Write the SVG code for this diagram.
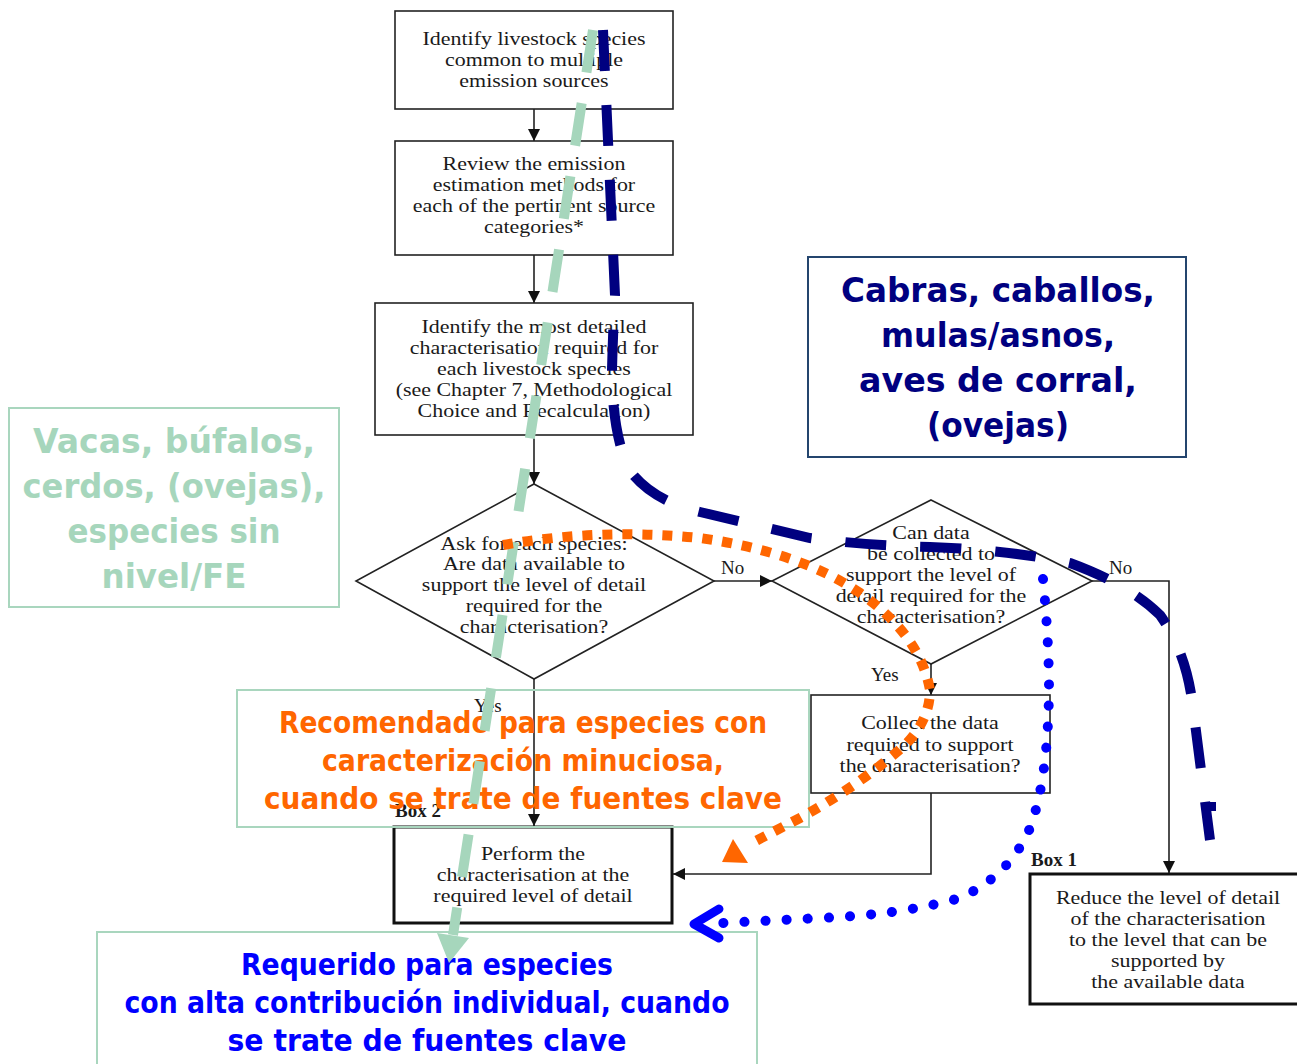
<svg xmlns="http://www.w3.org/2000/svg" width="1297" height="1064" viewBox="0 0 1297 1064">
  <defs>
    <marker id="arr" markerUnits="userSpaceOnUse" markerWidth="12" markerHeight="12" refX="12" refY="6" orient="auto">
      <path d="M0,0 L12,6 L0,12 z" fill="#111"/>
    </marker>
    <style>
      .box { fill: #fff; stroke: #222; stroke-width: 1.6; }
      .thick { fill: #fff; stroke: #111; stroke-width: 3; }
      .dia { fill: #fff; stroke: #222; stroke-width: 1.6; }
      .t { font-family: "Liberation Serif", "Times New Roman", serif; font-size: 18px; fill: #1a1a1a; text-anchor: middle; }
      .lbl { font-family: "Liberation Serif", "Times New Roman", serif; font-size: 19px; fill: #1a1a1a; }
      .bold { font-weight: bold; }
      .flow { fill: none; stroke: #222; stroke-width: 1.6; }
      .note { font-family: "DejaVu Sans", "Noto Sans", sans-serif; font-weight: bold; text-anchor: middle; }
      .notebox { fill: none; stroke-width: 2; }
    </style>
  </defs>

  <rect width="1297" height="1064" fill="#fff"/>

  <!-- flowchart connectors -->
  <g id="connectors">
    <path class="flow" d="M534 109 V141" marker-end="url(#arr)"/>
    <path class="flow" d="M534 255 V303" marker-end="url(#arr)"/>
    <path class="flow" d="M534 435 V484" marker-end="url(#arr)"/>
    <path class="flow" d="M714 581 H772" marker-end="url(#arr)"/>
    <path class="flow" d="M1092 581 H1169 V873" marker-end="url(#arr)"/>
    <path class="flow" d="M931 664 V695" marker-end="url(#arr)"/>
    <path class="flow" d="M534 679 V826" marker-end="url(#arr)"/>
    <path class="flow" d="M931 793 V874 H673" marker-end="url(#arr)"/>
    <text class="lbl" x="721" y="574">No</text>
    <text class="lbl" x="1109" y="574">No</text>
    <text class="lbl" x="871" y="681">Yes</text>
    <text class="lbl" x="474" y="712">Yes</text>
  </g>

  <!-- flowchart nodes; serif text is widened horizontally around each node's centre -->
  <g id="identify-species">
    <rect class="box" x="395" y="11" width="278" height="98"/>
    <g transform="matrix(1.22 0 0 1 -117.48 0)">
      <text class="t" x="534" y="45">Identify livestock species</text>
      <text class="t" x="534" y="66">common to multiple</text>
      <text class="t" x="534" y="87">emission sources</text>
    </g>
  </g>

  <g id="review-methods">
    <rect class="box" x="395" y="141" width="278" height="114"/>
    <g transform="matrix(1.22 0 0 1 -117.48 0)">
      <text class="t" x="534" y="170">Review the emission</text>
      <text class="t" x="534" y="191">estimation methods for</text>
      <text class="t" x="534" y="212">each of the pertinent source</text>
      <text class="t" x="534" y="233">categories*</text>
    </g>
  </g>

  <g id="identify-detail">
    <rect class="box" x="375" y="303" width="318" height="132"/>
    <g transform="matrix(1.22 0 0 1 -117.48 0)">
      <text class="t" x="534" y="333">Identify the most detailed</text>
      <text class="t" x="534" y="354">characterisation required for</text>
      <text class="t" x="534" y="375">each livestock species</text>
      <text class="t" x="534" y="396">(see Chapter 7, Methodological</text>
      <text class="t" x="534" y="417">Choice and Recalculation)</text>
    </g>
  </g>

  <g id="ask-data">
    <polygon class="dia" points="534,484 714,581 534,679 356,581"/>
    <g transform="matrix(1.22 0 0 1 -117.48 0)">
      <text class="t" x="534" y="550">Ask for each species:</text>
      <text class="t" x="534" y="570">Are data available to</text>
      <text class="t" x="534" y="591">support the level of detail</text>
      <text class="t" x="534" y="612">required for the</text>
      <text class="t" x="534" y="633">characterisation?</text>
    </g>
  </g>

  <g id="can-collect">
    <polygon class="dia" points="931,500 1092,581 931,664 772,581"/>
    <g transform="matrix(1.22 0 0 1 -204.82 0)">
      <text class="t" x="931" y="539">Can data</text>
      <text class="t" x="931" y="560">be collected to</text>
      <text class="t" x="931" y="581">support the level of</text>
      <text class="t" x="931" y="602">detail required for the</text>
      <text class="t" x="931" y="623">characterisation?</text>
    </g>
  </g>

  <g id="collect-data">
    <rect class="box" x="811" y="695" width="239" height="98"/>
    <g transform="matrix(1.22 0 0 1 -204.6 0)">
      <text class="t" x="930" y="729">Collect the data</text>
      <text class="t" x="930" y="751">required to support</text>
      <text class="t" x="930" y="772">the characterisation?</text>
    </g>
  </g>

  <g id="perform">
    <text class="lbl bold" x="395" y="817">Box 2</text>
    <rect class="thick" x="394" y="827" width="278" height="96"/>
    <g transform="matrix(1.22 0 0 1 -117.26 0)">
      <text class="t" x="533" y="860">Perform the</text>
      <text class="t" x="533" y="881">characterisation at the</text>
      <text class="t" x="533" y="902">required level of detail</text>
    </g>
  </g>

  <g id="reduce">
    <text class="lbl bold" x="1031" y="866">Box 1</text>
    <rect class="thick" x="1030" y="874" width="275" height="130"/>
    <g transform="matrix(1.22 0 0 1 -256.96 0)">
      <text class="t" x="1168" y="904">Reduce the level of detail</text>
      <text class="t" x="1168" y="925">of the characterisation</text>
      <text class="t" x="1168" y="946">to the level that can be</text>
      <text class="t" x="1168" y="967">supported by</text>
      <text class="t" x="1168" y="988">the available data</text>
    </g>
  </g>

  <!-- annotation boxes -->
  <g id="note-green">
    <rect class="notebox" x="9" y="408" width="330" height="199" stroke="#a9d6be"/>
    <g class="note" fill="#a6d6bc" font-size="34">
      <text x="174" y="453" textLength="282" lengthAdjust="spacingAndGlyphs">Vacas, búfalos,</text>
      <text x="174" y="498" textLength="303" lengthAdjust="spacingAndGlyphs">cerdos, (ovejas),</text>
      <text x="174" y="543" textLength="213" lengthAdjust="spacingAndGlyphs">especies sin</text>
      <text x="174" y="588" textLength="145" lengthAdjust="spacingAndGlyphs">nivel/FE</text>
    </g>
  </g>

  <g id="note-navy">
    <rect class="notebox" x="808" y="257" width="378" height="200" stroke="#24456e"/>
    <g class="note" fill="#000080" font-size="34">
      <text x="998" y="302" textLength="314" lengthAdjust="spacingAndGlyphs">Cabras, caballos,</text>
      <text x="998" y="347" textLength="234" lengthAdjust="spacingAndGlyphs">mulas/asnos,</text>
      <text x="998" y="392" textLength="278" lengthAdjust="spacingAndGlyphs">aves de corral,</text>
      <text x="998" y="437" textLength="142" lengthAdjust="spacingAndGlyphs">(ovejas)</text>
    </g>
  </g>

  <g id="note-orange">
    <rect class="notebox" x="237" y="690" width="572" height="137" stroke="#a9d6be"/>
    <g class="note" fill="#ff6600" font-size="31">
      <text x="523" y="733" textLength="488" lengthAdjust="spacingAndGlyphs">Recomendado para especies con</text>
      <text x="523" y="771" textLength="402" lengthAdjust="spacingAndGlyphs">caracterización minuciosa,</text>
      <text x="523" y="809" textLength="518" lengthAdjust="spacingAndGlyphs">cuando se trate de fuentes clave</text>
    </g>
  </g>

  <g id="note-blue">
    <rect class="notebox" x="97" y="932" width="660" height="140" stroke="#a9d6be"/>
    <g class="note" fill="#0000ff" font-size="30">
      <text x="427" y="975" textLength="372" lengthAdjust="spacingAndGlyphs">Requerido para especies</text>
      <text x="427" y="1013" textLength="605" lengthAdjust="spacingAndGlyphs">con alta contribución individual, cuando</text>
      <text x="427" y="1051" textLength="399" lengthAdjust="spacingAndGlyphs">se trate de fuentes clave</text>
    </g>
  </g>

  <!-- overlay paths tracing the routes through the flowchart -->
  <g id="routes">
    <!-- light green route -->
    <path d="M593 30 L453 935" fill="none" stroke="#a6d6bc" stroke-width="10" stroke-dasharray="43 31"/>
    <polygon points="449,963 469,938 437,933" fill="#a6d6bc"/>

    <!-- navy route -->
    <path d="M603 30 L615 295 Q613 330 612 370 Q612 430 628 468 Q650 500 700 512 L810 538 Q870 546 930 547 Q1010 550 1070 563 Q1130 585 1160 615 Q1185 650 1192 700 L1210 840" fill="none" stroke="#000080" stroke-width="10" stroke-dasharray="41 34"/>
    <rect x="1206" y="802" width="10" height="9" fill="#000080"/>

    <!-- orange route -->
    <path d="M503 545 Q600 528 700 538 Q800 552 860 593 Q920 635 930 690 Q930 720 905 745 Q860 785 800 818 L748 845" fill="none" stroke="#ff6600" stroke-width="10" stroke-dasharray="10 10"/>
    <polygon points="722,862 748,863 733,839" fill="#ff6600"/>

    <!-- blue route -->
    <path d="M1043 579 Q1049 640 1049 690 Q1048 780 1030 828 Q1010 875 960 898 Q900 915 820 918 L722 923" fill="none" stroke="#0000ff" stroke-width="10" stroke-linecap="round" stroke-dasharray="0.1 21"/>
    <polyline points="719,909 694,924 719,938" fill="none" stroke="#0000ff" stroke-width="9" stroke-linecap="round" stroke-linejoin="round"/>
  </g>
</svg>
